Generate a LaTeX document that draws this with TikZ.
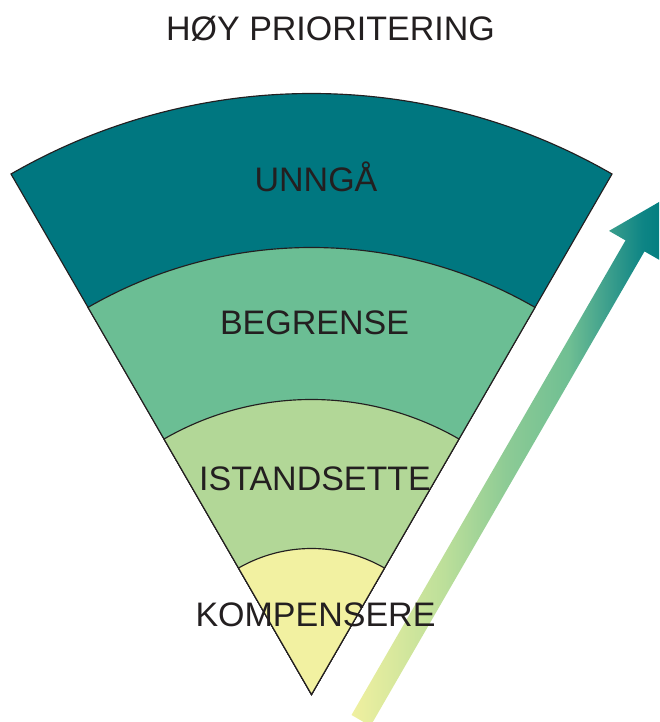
\documentclass[tikz,border=0pt]{standalone}
\usepackage{fontspec}
\setmainfont{Liberation Sans}
\definecolor{txt}{HTML}{231F20}
\definecolor{cunngaa}{HTML}{007780}
\definecolor{cbegrense}{HTML}{6BBE94}
\definecolor{cistand}{HTML}{B2D797}
\definecolor{ckomp}{HTML}{F2F1A1}
\definecolor{ga}{HTML}{F0F0A0}
\definecolor{gb}{HTML}{BCDF9A}
\definecolor{gc}{HTML}{8DCB95}
\definecolor{gd}{HTML}{70BF93}
\definecolor{ge}{HTML}{40A18D}
\definecolor{gf}{HTML}{0E8585}
\definecolor{gg}{HTML}{037E80}
\pgfdeclarehorizontalshading{arrowshade}{100bp}{color(0bp)=(ga); color(25bp)=(ga); color(40bp)=(gb); color(50bp)=(gc); color(60bp)=(gd); color(66bp)=(ge); color(72bp)=(gf); color(75bp)=(gg); color(100bp)=(gg)}
\begin{document}
\begin{tikzpicture}[x=1pt,y=1pt,
  band/.style={draw=txt,line width=1.15pt,line join=miter},
  lab/.style={text=txt,anchor=base,inner sep=0pt,font=\fontsize{34}{40}\selectfont}]
\useasboundingbox (0,0) rectangle (659,722);
\coordinate (apex) at (311.5,27.5);
% arrow
\begin{scope}
\clip (0,0) rectangle (659,722);
\shade[shading=arrowshade] (351.5,7) -- (625.5,481.6) -- (609,491.1) -- (661,521.1) -- (661,461.1) -- (644.5,470.6) -- (370.5,-4) -- cycle;
\end{scope}
% wedge bands
\draw[band,fill=cunngaa] (apex) -- ++(120:601) arc[start angle=120,end angle=60,radius=601] -- cycle;
\draw[band,fill=cbegrense] (apex) -- ++(120:447) arc[start angle=120,end angle=60,radius=447] -- cycle;
\draw[band,fill=cistand] (apex) -- ++(120:295) arc[start angle=120,end angle=60,radius=295] -- cycle;
\draw[band,fill=ckomp] (apex) -- ++(120:146) arc[start angle=120,end angle=60,radius=146] -- cycle;
% labels
\node[lab] (title) at (330.5,681) {HØY PRIORITERING};
\node[lab] (unngaa) at (316,530) {UNNGÅ};
\node[lab] (begrense) at (314.5,387) {BEGRENSE};
\node[lab] (istand) at (315,231) {ISTANDSETTE};
\node[lab] (komp) at (315.5,95) {KOMPENSERE};
\end{tikzpicture}
\end{document}
